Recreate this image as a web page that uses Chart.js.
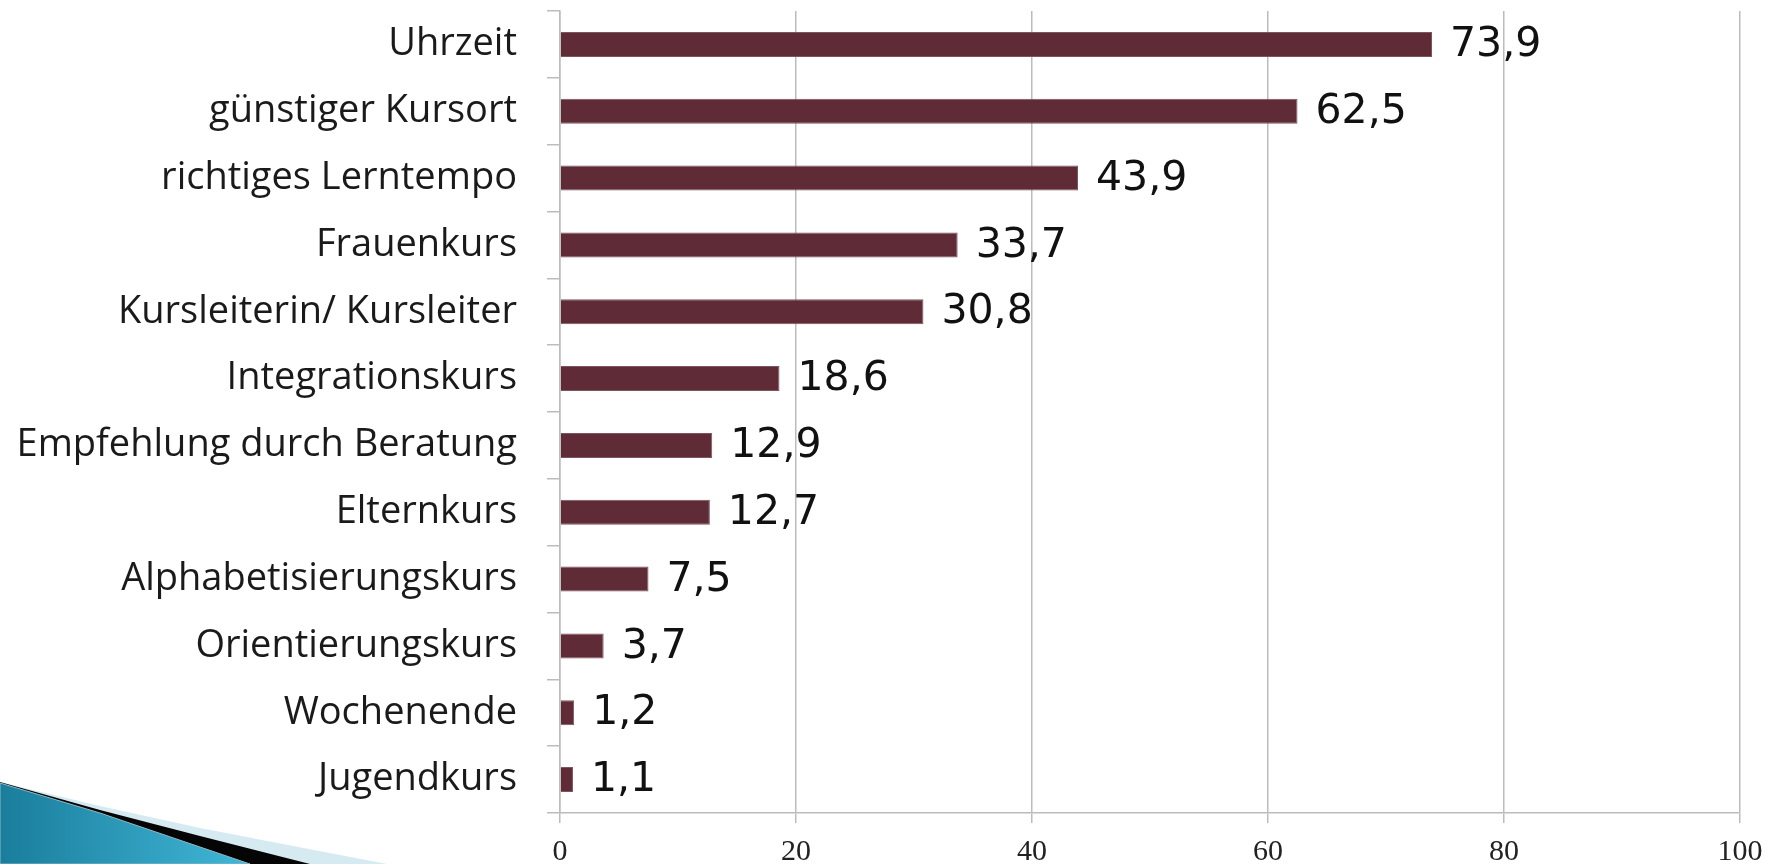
<!DOCTYPE html>
<html>
<head>
<meta charset="utf-8">
<script src="https://cdn.jsdelivr.net/npm/chart.js@4/dist/chart.umd.min.js"></script>
<style>
  html, body { margin: 0; padding: 0; background: #fff; }
  #wrap { position: relative; width: 1779px; height: 864px; overflow: hidden; }
  #deco { position: absolute; left: 0; top: 0; }
  #myChart { position: absolute; left: 0; top: 0; }
</style>
</head>
<body>
<div id="wrap">
  <!-- slide decoration, bottom left -->
  <svg id="deco" width="1779" height="864">
    <defs>
      <linearGradient id="blue" x1="0" y1="0" x2="1" y2="0">
        <stop offset="0" stop-color="#1a7d9c"/>
        <stop offset="1" stop-color="#41b7d8"/>
      </linearGradient>
    </defs>
    <polygon points="0,782 100,806 200,828 387,864 0,864" fill="#d6eaf1"/>
    <polygon points="0,782 100,810 200,836 310,864 0,864" fill="#050505"/>
    <polygon points="0,783 100,813 200,847 250,864 0,864" fill="url(#blue)" stroke="#8fb9c6" stroke-width="1"/>
  </svg>
  <canvas id="myChart" width="1779" height="864"></canvas>
</div>
<script>
var categories = [
  'Uhrzeit',
  'günstiger Kursort',
  'richtiges Lerntempo',
  'Frauenkurs',
  'Kursleiterin/ Kursleiter',
  'Integrationskurs',
  'Empfehlung durch Beratung',
  'Elternkurs',
  'Alphabetisierungskurs',
  'Orientierungskurs',
  'Wochenende',
  'Jugendkurs'
];
var values = [73.9, 62.5, 43.9, 33.7, 30.8, 18.6, 12.9, 12.7, 7.5, 3.7, 1.2, 1.1];
var xTicks = [0, 20, 40, 60, 80, 100];

var gridGray = '#bcbcbc';

function formatValue(v) {
  return v.toFixed(1).replace('.', ',');
}

// numbers at the end of each bar
var valueLabels = {
  id: 'valueLabels',
  afterDatasetsDraw: function(chart) {
    var ctx = chart.ctx;
    var meta = chart.getDatasetMeta(0);
    ctx.save();
    ctx.font = '41px "DejaVu Sans"';
    ctx.fillStyle = '#111';
    ctx.textAlign = 'left';
    ctx.textBaseline = 'middle';
    meta.data.forEach(function(bar, i) {
      ctx.fillText(formatValue(values[i]), bar.x + 18, bar.y + 1);
    });
    ctx.restore();
  }
};

var ctx = document.getElementById('myChart');
var chart = new Chart(ctx, {
  type: 'bar',
  data: {
    labels: categories,
    datasets: [{
      data: values,
      backgroundColor: '#5e2b37',
      borderColor: '#7d5560',
      borderWidth: 1,
      barPercentage: 0.375,
      categoryPercentage: 1
    }]
  },
  options: {
    indexAxis: 'y',
    responsive: false,
    animation: false,
    layout: { padding: { top: 11, right: 39, left: 0, bottom: 0 } },
    plugins: {
      legend: { display: false },
      tooltip: { enabled: false }
    },
    scales: {
      x: {
        min: xTicks[0],
        max: xTicks[xTicks.length - 1],
        afterBuildTicks: function(scale) {
          scale.ticks = xTicks.map(function(v) { return { value: v }; });
        },
        afterFit: function(scale) { scale.height = 51; },
        grid: {
          color: gridGray,
          lineWidth: 1.5,
          tickLength: 10
        },
        border: { color: gridGray, width: 1.5 },
        ticks: {
          padding: 11,
          color: '#222',
          font: { family: '"Liberation Serif"', size: 30 }
        }
      },
      y: {
        afterFit: function(scale) {
          scale.width = 560;
          scale.paddingTop = 0;
          scale.paddingBottom = 0;
        },
        grid: {
          offset: true,
          drawOnChartArea: false,
          color: gridGray,
          lineWidth: 1.5,
          tickLength: 13
        },
        border: { color: gridGray, width: 1.5 },
        ticks: {
          padding: 30,
          color: '#1a1a1a',
          font: { family: '"Open Sans"', size: 38 }
        }
      }
    }
  },
  plugins: [valueLabels]
});
</script>
</body>
</html>
